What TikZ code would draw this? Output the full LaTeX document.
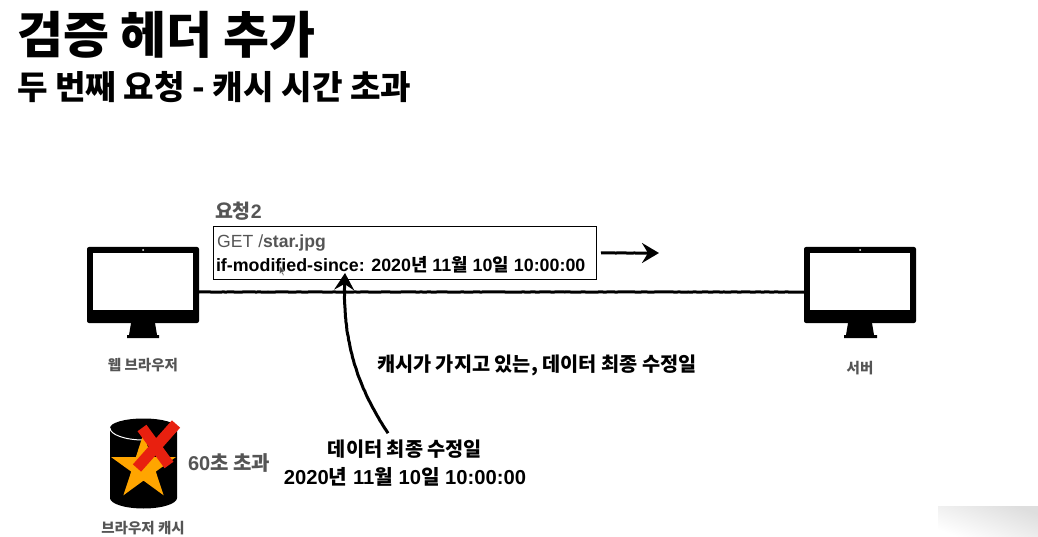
\documentclass[tikz,border=0pt]{standalone}
\usepackage{fontspec}
\setmainfont{Liberation Sans}
\newfontfamily\krf{Noto Sans CJK KR}
\newcommand\hg[1]{{\krf #1}}
\newcommand\fs[1]{\fontsize{#1}{#1}\selectfont}
\usetikzlibrary{arrows.meta,decorations.pathmorphing,calc}
\definecolor{txtgray}{HTML}{555555}
\definecolor{crossred}{HTML}{E8200F}
\definecolor{starorange}{HTML}{FFA500}
\tikzset{
  lbl/.style={inner sep=0pt,outer sep=0pt,text=black,font=\bfseries},
  graylbl/.style={lbl,text=txtgray},
  monitor/.style={fill=black,rounded corners=2pt,minimum width=112pt,minimum height=76pt,inner sep=0pt,outer sep=0pt},
  screen/.style={fill=white,minimum width=99.5pt,minimum height=57pt,inner sep=0pt,outer sep=0pt},
  sketch/.style={draw=black,line width=3pt,decorate,decoration={random steps,segment length=3pt,amplitude=0.18pt,post length=10pt}},
  headtip/.style={-{Stealth[length=17pt,width=20pt,inset=6pt]}},
  crossline/.style={draw=crossred,line width=11pt},
}
\begin{document}
\begin{tikzpicture}[x=1pt,y=-1pt]
\useasboundingbox (0,0) rectangle (1038,537);
\fill[white] (0,0) rectangle (1038,537);
% corner patch
\shade[left color=black!13,right color=white,shading angle=-20] (938,506) rectangle (1038,537);
% titles
\node[lbl,anchor=west,font=\bfseries\fs{50}] (title) at (17,35) {\hg{검증 헤더 추가}};
\node[lbl,anchor=west,font=\bfseries\fs{33.2}] (subtitle) at (17,87) {\hg{두 번째 요청 - 캐시 시간 초과}};
% monitors
\node[monitor] (browser) at (143,285) {};
\node[screen] (bscreen) at (143,281.5) {};
\fill[white] (143,250) circle (1pt);
\fill[black] (131,323) -- (155,323) -- (157,335) -- (159,335) -- (159,338) -- (127,338) -- (127,335) -- (129,335) -- cycle;
\node[monitor] (server) at (860,285) {};
\node[screen] (sscreen) at (860,281.5) {};
\fill[white] (860,250) circle (1pt);
\fill[black] (848,323) -- (872,323) -- (874,335) -- (877,335) -- (877,338) -- (844,338) -- (844,335) -- (846,335) -- cycle;
\node[graylbl,font=\bfseries\fs{14.5}] (blabel) at (143,365) {\hg{웹 브라우저}};
\node[graylbl,font=\bfseries\fs{14.5}] (slabel) at (860,368) {\hg{서버}};
% main line
\draw[sketch] ([yshift=-7pt]browser.east) -- ([yshift=-7pt]server.west);
% request box
\node[draw=black,line width=1pt,fill=white,minimum width=383pt,minimum height=52pt,inner sep=0pt,outer sep=0pt] (box) at (404.5,253) {};
\node[graylbl,anchor=west,font=\bfseries\fs{19.5}] (req) at (215,211) {\hg{요청}2};
\node[anchor=west,inner sep=0pt,text=txtgray,font=\fs{17.6}] (get) at (217,242.5) {GET /\textbf{star.jpg}};
\node[lbl,anchor=west,font=\bfseries\fs{17.85}] (ims) at (216,264.5) {if-modified-since: 2020\hg{년} 11\hg{월} 10\hg{일} 10:00:00};
% cursor
\fill[black!70,draw=white,line width=0.3pt] (279.5,266) -- (279.5,274) -- (281.3,272.3) -- (283,275.5) -- (284,275) -- (282.5,272) -- (285,271.5) -- cycle;
% small arrow
\coordinate (goEnd) at (659,253);
\draw[sketch,headtip] ([xshift=5pt]box.east) -- (goEnd);
% texts
\node[lbl,anchor=west,font=\bfseries\fs{19.7}] (note) at (377,365.5) {\hg{캐시가 가지고 있는, 데이터 최종 수정일}};
\node[lbl,font=\bfseries\fs{19.7}] (date1) at (405,449.5) {\hg{데이터 최종 수정일}};
\node[lbl,font=\bfseries\fs{20.2}] (date2) at (405,477) {2020\hg{년} 11\hg{월} 10\hg{일} 10:00:00};
% curved arrow
\draw[sketch,headtip] ([xshift=-17pt,yshift=7pt]date1.north) .. controls (358,388) and (341,340) .. ([xshift=-59.5pt,yshift=6pt]box.south);
% cache
\fill[black] (110,428) arc[start angle=180,end angle=360,x radius=33.5,y radius=9.5] -- (177,498) arc[start angle=0,end angle=180,x radius=33.5,y radius=10.5] -- cycle;
\draw[white,line width=1pt] (110,428) arc[start angle=180,end angle=0,x radius=33.5,y radius=12];
\fill[starorange] (143.5,433.4) -- (151.1,457) -- (176,457) -- (155.8,471.6) -- (163.6,495.3) -- (143.5,480.6) -- (123.4,495.3) -- (131.2,471.6) -- (111,457) -- (135.9,457) -- cycle;
\draw[crossline] (142,428) -- (169,465);
\draw[crossline] (176,424) -- (137,468);
\node[graylbl,anchor=west,font=\bfseries\fs{20}] (sixty) at (188,463) {60\hg{초 초과}};
\node[graylbl,font=\bfseries\fs{14.5}] (clabel) at (143,528) {\hg{브라우저 캐시}};
\end{tikzpicture}
\end{document}
